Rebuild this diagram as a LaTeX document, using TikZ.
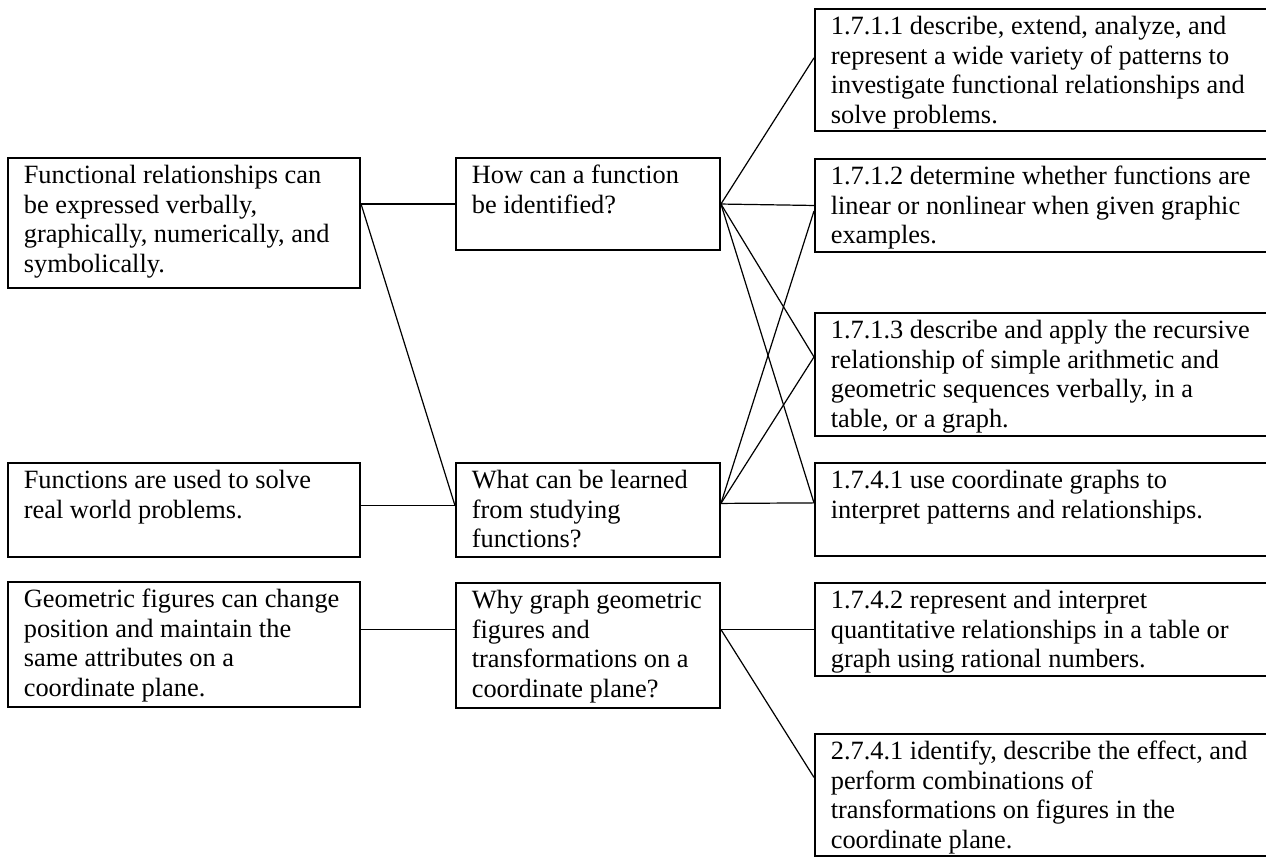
\documentclass[tikz,border=0pt]{standalone}
\usepackage{fontspec}
\setmainfont{Liberation Serif}
\newcommand{\boxtext}[3]{\parbox[c][#2][t]{#1}{\raggedright\rule{0pt}{11.8pt}#3}}
\tikzset{
	box/.style={draw,line width=0.9pt,anchor=north west,inner xsep=7.2pt,inner ysep=0pt,font=\fontsize{12pt}{13.4pt}\selectfont},
	link/.style={line width=0.55pt}
}
\begin{document}
\begin{tikzpicture}[x=0.455pt,y=-0.455pt]
		\useasboundingbox (0,0) rectangle (1266,857);
		\clip (0,0) rectangle (1266,857);
		\node[box] (l1) at (7,157) {\boxtext{145.8pt}{59.2pt}{Functional relationships can\\be expressed verbally,\\graphically, numerically, and\\symbolically.}};
		\node[box] (l2) at (7,462) {\boxtext{145.8pt}{42.8pt}{Functions are used to solve\\real world problems.}};
		\node[box] (l3) at (7,581) {\boxtext{145.8pt}{56.9pt}{Geometric figures can change\\position and maintain the\\same attributes on a\\coordinate plane.}};
		\node[box] (m1) at (455,157) {\boxtext{105.7pt}{41.9pt}{How can a function\\be identified?}};
		\node[box] (m2) at (455,462) {\boxtext{105.7pt}{42.8pt}{What can be learned\\from studying\\functions?}};
		\node[box] (m3) at (455,582) {\boxtext{105.7pt}{56.9pt}{Why graph geometric\\figures and\\transformations on a\\coordinate plane?}};
		\node[box] (r1) at (814,8) {\boxtext{194pt}{55.5pt}{1.7.1.1 describe, extend, analyze, and\\represent a wide variety of patterns to\\investigate functional relationships and\\solve problems.}};
		\node[box] (r2) at (814,158) {\boxtext{194pt}{42.3pt}{1.7.1.2 determine whether functions are\\linear or nonlinear when given graphic\\examples.}};
		\node[box] (r3) at (814,312) {\boxtext{194pt}{56pt}{1.7.1.3 describe and apply the recursive\\relationship of simple arithmetic and\\geometric sequences verbally, in a\\table, or a graph.}};
		\node[box] (r4) at (814,462) {\boxtext{194pt}{42.3pt}{1.7.4.1 use coordinate graphs to\\interpret patterns and relationships.}};
		\node[box] (r5) at (814,582) {\boxtext{194pt}{42.3pt}{1.7.4.2 represent and interpret\\quantitative relationships in a table or\\graph using rational numbers.}};
		\node[box] (r6) at (814,733) {\boxtext{194pt}{55.5pt}{2.7.4.1 identify, describe the effect, and\\perform combinations of\\transformations on figures in the\\coordinate plane.}};
		\draw[link] (l1.east |- m1.west) -- (m1.west);
		\draw[link] (l1.east |- m1.west) -- ([yshift=2pt]m2.west);
		\draw[link] ([yshift=2pt]l2.east) -- ([yshift=2pt]m2.west);
		\draw[link] (l3.east |- r5.west) -- (m3.west |- r5.west);
		\draw[link] (m1.east) -- ([yshift=5.5pt]r1.west);
		\draw[link] (m1.east) -- (r2.west);
		\draw[link] (m1.east) -- ([yshift=8pt]r3.west);
		\draw[link] (m1.east) -- ([yshift=3pt]r4.west);
		\draw[link] ([yshift=3pt]m2.east) -- ([yshift=-2.5pt]r2.west);
		\draw[link] ([yshift=3pt]m2.east) -- ([yshift=8pt]r3.west);
		\draw[link] ([yshift=3pt]m2.east) -- ([yshift=3pt]r4.west);
		\draw[link] (m3.east |- r5.west) -- (r5.west);
		\draw[link] (m3.east |- r5.west) -- ([yshift=8pt]r6.west);
\end{tikzpicture}
\end{document}
